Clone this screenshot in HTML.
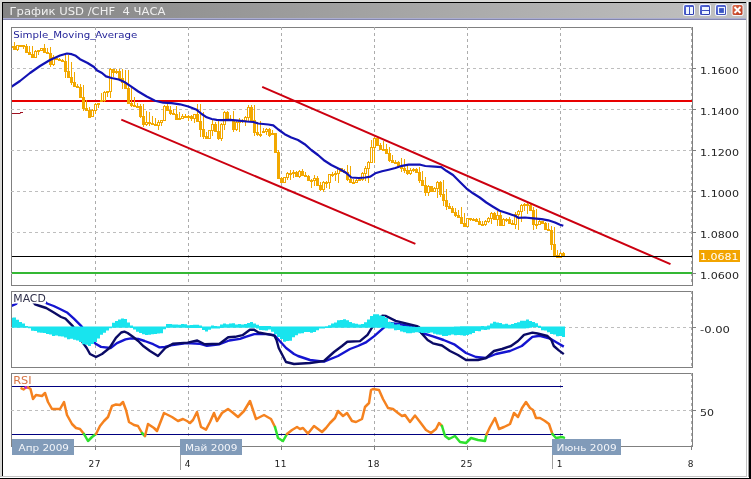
<!DOCTYPE html>
<html><head><meta charset="utf-8"><title>График USD/CHF</title>
<style>html,body{margin:0;padding:0;width:751px;height:479px;overflow:hidden;background:#fff}svg{display:block}text{font-family:"DejaVu Sans","Liberation Sans",sans-serif}</style>
</head><body>
<svg width="751" height="479" viewBox="0 0 751 479">
<rect width="751" height="479" fill="#d8d8d6"/>
<rect x="3" y="3" width="743" height="473" fill="#fff"/>
<path d="M2.5,2V477M2,2.5H746" stroke="#000" stroke-width="1"/>
<path d="M746.5,2V477M0,476.5H747" stroke="#c4c4c4"/>
<path d="M748.5,2V478" stroke="#9a9a9a"/>
<rect x="749" y="2" width="2" height="477" fill="#000"/>
<rect x="0" y="477" width="749" height="1" fill="#fff"/>
<rect x="0" y="478" width="751" height="1" fill="#000"/>
<rect x="747" y="2" width="1" height="476" fill="#fff"/>
<defs><linearGradient id="tg" x1="0" x2="1" y1="0" y2="0"><stop offset="0" stop-color="#848484"/><stop offset="1" stop-color="#c2c2c2"/></linearGradient></defs>
<rect x="3" y="3" width="743" height="15" fill="url(#tg)"/>
<rect x="3" y="18" width="743" height="1" fill="#acaed2"/>
<rect x="3" y="19" width="743" height="1" fill="#8486ac"/>
<text x="9.5" y="15" font-size="10.2" fill="#f0f0f0" textLength="156" lengthAdjust="spacingAndGlyphs" style="white-space:pre">График USD /CHF  4 ЧАСА</text>
<defs><linearGradient id="bg" x1="0" y1="0" x2="1" y2="1"><stop offset="0" stop-color="#5c70dc"/><stop offset="1" stop-color="#2434a8"/></linearGradient><linearGradient id="rg" x1="0" y1="0" x2="1" y2="1"><stop offset="0" stop-color="#e07050"/><stop offset="1" stop-color="#b83418"/></linearGradient></defs>
<rect x="683" y="4" width="12" height="12" rx="2.5" fill="#f4f8ff"/><rect x="684" y="5" width="10" height="10" rx="1.5" fill="url(#bg)"/><rect x="686" y="7" width="3" height="7" fill="#eef6ff"/><rect x="690" y="7" width="3" height="7" fill="#eef6ff"/>
<rect x="699" y="4" width="12" height="12" rx="2.5" fill="#f4f8ff"/><rect x="700" y="5" width="10" height="10" rx="1.5" fill="url(#bg)"/><rect x="702" y="7" width="7" height="3" fill="#eef6ff"/><rect x="702" y="11" width="7" height="3" fill="#eef6ff"/>
<rect x="715" y="4" width="12" height="12" rx="2.5" fill="#f4f8ff"/><rect x="716" y="5" width="10" height="10" rx="1.5" fill="url(#bg)"/><rect x="718.5" y="7.5" width="6" height="6" fill="#3a56c4" stroke="#eef6ff" stroke-width="1.2"/>
<rect x="731.5" y="4" width="12" height="12" rx="2.5" fill="#f4f8ff"/><rect x="732.5" y="5" width="10" height="10" rx="1.5" fill="url(#rg)"/><path d="M734.5,7L740.5,13M740.5,7L734.5,13" stroke="#fff" stroke-width="1.9"/>
<g fill="none" stroke="#808080" stroke-width="1">
<rect x="11.5" y="27.5" width="681" height="258"/>
<rect x="11.5" y="291.5" width="681" height="76"/>
<rect x="11.5" y="373.5" width="681" height="73"/>
</g>
<g stroke="#acacac" stroke-width="1" stroke-dasharray="3,3">
<line x1="95.5" y1="27" x2="95.5" y2="285"/><line x1="188.5" y1="27" x2="188.5" y2="285"/><line x1="281.5" y1="27" x2="281.5" y2="285"/><line x1="374.5" y1="27" x2="374.5" y2="285"/><line x1="467.5" y1="27" x2="467.5" y2="285"/><line x1="560.5" y1="27" x2="560.5" y2="285"/><line x1="691.5" y1="27" x2="691.5" y2="285"/>
<line x1="95.5" y1="291" x2="95.5" y2="367"/><line x1="188.5" y1="291" x2="188.5" y2="367"/><line x1="281.5" y1="291" x2="281.5" y2="367"/><line x1="374.5" y1="291" x2="374.5" y2="367"/><line x1="467.5" y1="291" x2="467.5" y2="367"/><line x1="560.5" y1="291" x2="560.5" y2="367"/><line x1="691.5" y1="291" x2="691.5" y2="367"/>
<line x1="95.5" y1="373" x2="95.5" y2="446"/><line x1="188.5" y1="373" x2="188.5" y2="446"/><line x1="281.5" y1="373" x2="281.5" y2="446"/><line x1="374.5" y1="373" x2="374.5" y2="446"/><line x1="467.5" y1="373" x2="467.5" y2="446"/><line x1="560.5" y1="373" x2="560.5" y2="446"/><line x1="691.5" y1="373" x2="691.5" y2="446"/>
</g>
<g stroke="#bebebe" stroke-width="1" stroke-dasharray="3,3">
<line x1="11" y1="68.5" x2="692" y2="68.5"/><line x1="11" y1="109.5" x2="692" y2="109.5"/><line x1="11" y1="150.5" x2="692" y2="150.5"/><line x1="11" y1="191.5" x2="692" y2="191.5"/><line x1="11" y1="232.5" x2="692" y2="232.5"/><line x1="11" y1="273.5" x2="692" y2="273.5"/>
<line x1="11" y1="327.5" x2="692" y2="327.5"/>
<line x1="11" y1="410.5" x2="692" y2="410.5"/>
</g>
<path d="M692,68.5H696M692,109.5H696M692,150.5H696M692,191.5H696M692,232.5H696M692,273.5H696M692,327.5H696M692,410.5H696M95.5,446V450M188.5,446V450M281.5,446V450M374.5,446V450M467.5,446V450M560.5,446V450M691.5,446V450" stroke="#808080"/>
<g font-size="9" fill="#262626">
<text x="700" y="74" textLength="39" lengthAdjust="spacingAndGlyphs">1.1600</text>
<text x="700" y="115" textLength="39" lengthAdjust="spacingAndGlyphs">1.1400</text>
<text x="700" y="156" textLength="39" lengthAdjust="spacingAndGlyphs">1.1200</text>
<text x="700" y="197" textLength="39" lengthAdjust="spacingAndGlyphs">1.1000</text>
<text x="700" y="238" textLength="39" lengthAdjust="spacingAndGlyphs">1.0800</text>
<text x="700" y="279" textLength="39" lengthAdjust="spacingAndGlyphs">1.0600</text>
<text x="700" y="333" textLength="30" lengthAdjust="spacingAndGlyphs">-0.00</text>
<text x="700" y="416" textLength="14" lengthAdjust="spacingAndGlyphs">50</text>
</g>
<clipPath id="cm"><rect x="12" y="28" width="680" height="257"/></clipPath>
<g clip-path="url(#cm)">
<rect x="12" y="100" width="680" height="2" fill="#e80000"/>
<path d="M12,113.5H20.5M20,112.5H23" stroke="#a01020" stroke-width="1.2"/>
<path d="M11.5,46V48M14.5,42V50M17.5,45V51M20.5,45V47M23.5,45V49M26.5,44V52M29.5,46V54M32.5,46V58M35.5,50V57M38.5,50V55M41.5,48V51M44.5,44V53M47.5,48V54M50.5,47V67M53.5,55V66M56.5,57V60M59.5,58V60M62.5,59V61M65.5,53V78M68.5,55V78M71.5,62V85M74.5,72V87M77.5,84V87M80.5,84V98M83.5,85V111M86.5,100V110M89.5,107V117M92.5,109V117M95.5,103V114M98.5,103V108M101.5,93V101M104.5,91V102M107.5,91V97M110.5,68V98M113.5,69V77M116.5,69V74M119.5,69V78M122.5,69V89M125.5,70V88M128.5,70V104M131.5,86V107M134.5,97V107M137.5,103V107M140.5,104V118M143.5,104V127M146.5,111V126M149.5,112V126M152.5,116V125M155.5,118V126M158.5,120V130M161.5,120V126M164.5,105V121M167.5,104V110M170.5,106V115M173.5,109V115M176.5,106V120M179.5,112V120M182.5,114V118M185.5,114V118M188.5,115V121M191.5,115V121M194.5,114V123M197.5,104V122M200.5,104V137M203.5,112V139M206.5,132V138M209.5,130V138M212.5,120V136M215.5,122V132M218.5,120V140M221.5,123V141M224.5,111V130M227.5,111V121M230.5,115V121M233.5,111V132M236.5,121V131M239.5,118V132M242.5,119V123M245.5,116V126M248.5,105V121M251.5,105V121M254.5,105V136M257.5,122V136M260.5,121V137M263.5,128V131M266.5,128V135M269.5,128V137M272.5,130V133M275.5,133V153M278.5,150V179M281.5,177V183M284.5,177V183M287.5,172V180M290.5,170V180M293.5,170V178M296.5,171V177M299.5,170V178M302.5,169V176M305.5,172V176M308.5,175V180M311.5,179V188M314.5,175V186M317.5,176V186M320.5,182V191M323.5,181V192M326.5,181V188M329.5,174V189M332.5,172V177M335.5,171V181M338.5,168V183M341.5,168V172M344.5,169V172M347.5,165V181M350.5,166V183M353.5,179V182M356.5,179V183M359.5,178V181M362.5,172V181M365.5,166V181M368.5,161V183M371.5,140V163M374.5,137V163M377.5,138V146M380.5,143V150M383.5,141V151M386.5,144V154M389.5,147V162M392.5,155V162M395.5,160V163M398.5,161V166M401.5,158V172M404.5,159V173M407.5,166V175M410.5,168V175M413.5,168V172M416.5,168V172M419.5,167V183M422.5,171V186M425.5,177V196M428.5,185V196M431.5,186V192M434.5,187V192M437.5,181V198M440.5,181V197M443.5,180V206M446.5,189V210M449.5,203V209M452.5,206V213M455.5,208V217M458.5,210V218M461.5,207V224M464.5,213V227M467.5,218V227M470.5,218V221M473.5,218V221M476.5,218V222M479.5,218V224M482.5,221V225M485.5,220V226M488.5,217V223M491.5,212V224M494.5,212V220M497.5,211V226M500.5,212V226M503.5,218V225M506.5,218V222M509.5,217V223M512.5,220V224M515.5,212V229M518.5,210V230M521.5,204V222M524.5,203V211M527.5,203V214M530.5,204V211M533.5,207V230M536.5,209V229M539.5,220V225M542.5,221V224M545.5,222V230M548.5,223V230M551.5,226V250M554.5,227V257M557.5,250V258M560.5,252V258M563.5,252V256" stroke="#f2a800" stroke-width="1" fill="none"/>
<rect x="13" y="46" width="3" height="4" fill="#f2a800"/>
<rect x="17" y="46" width="1" height="3" fill="#fff"/>
<rect x="22" y="45" width="3" height="2" fill="#f2a800"/>
<rect x="25" y="46" width="3" height="7" fill="#f2a800"/>
<rect x="28" y="52" width="3" height="3" fill="#f2a800"/>
<rect x="31" y="54" width="3" height="4" fill="#f2a800"/>
<rect x="35" y="52" width="1" height="5" fill="#fff"/>
<rect x="41" y="49" width="1" height="1" fill="#fff"/>
<rect x="43" y="48" width="3" height="5" fill="#f2a800"/>
<rect x="46" y="52" width="3" height="2" fill="#f2a800"/>
<rect x="49" y="53" width="3" height="12" fill="#f2a800"/>
<rect x="53" y="58" width="1" height="6" fill="#fff"/>
<rect x="55" y="58" width="3" height="2" fill="#f2a800"/>
<rect x="58" y="59" width="3" height="2" fill="#f2a800"/>
<rect x="61" y="60" width="3" height="2" fill="#f2a800"/>
<rect x="64" y="61" width="3" height="11" fill="#f2a800"/>
<rect x="67" y="71" width="3" height="7" fill="#f2a800"/>
<rect x="70" y="77" width="3" height="6" fill="#f2a800"/>
<rect x="73" y="82" width="3" height="5" fill="#f2a800"/>
<rect x="76" y="86" width="3" height="2" fill="#f2a800"/>
<rect x="79" y="87" width="3" height="11" fill="#f2a800"/>
<rect x="82" y="97" width="3" height="12" fill="#f2a800"/>
<rect x="85" y="108" width="3" height="3" fill="#f2a800"/>
<rect x="88" y="110" width="3" height="8" fill="#f2a800"/>
<rect x="92" y="111" width="1" height="5" fill="#fff"/>
<rect x="95" y="105" width="1" height="5" fill="#fff"/>
<rect x="104" y="93" width="1" height="7" fill="#fff"/>
<rect x="110" y="70" width="1" height="21" fill="#fff"/>
<rect x="112" y="69" width="3" height="4" fill="#f2a800"/>
<rect x="118" y="71" width="3" height="8" fill="#f2a800"/>
<rect x="121" y="78" width="3" height="5" fill="#f2a800"/>
<rect x="124" y="82" width="3" height="7" fill="#f2a800"/>
<rect x="127" y="88" width="3" height="16" fill="#f2a800"/>
<rect x="130" y="103" width="3" height="3" fill="#f2a800"/>
<rect x="133" y="105" width="3" height="2" fill="#f2a800"/>
<rect x="136" y="106" width="3" height="2" fill="#f2a800"/>
<rect x="139" y="106" width="3" height="11" fill="#f2a800"/>
<rect x="142" y="116" width="3" height="9" fill="#f2a800"/>
<rect x="146" y="123" width="1" height="1" fill="#fff"/>
<rect x="148" y="122" width="3" height="2" fill="#f2a800"/>
<rect x="151" y="123" width="3" height="2" fill="#f2a800"/>
<rect x="154" y="124" width="3" height="2" fill="#f2a800"/>
<rect x="158" y="123" width="1" height="2" fill="#fff"/>
<rect x="161" y="121" width="1" height="1" fill="#fff"/>
<rect x="164" y="107" width="1" height="13" fill="#fff"/>
<rect x="166" y="106" width="3" height="5" fill="#f2a800"/>
<rect x="169" y="110" width="3" height="4" fill="#f2a800"/>
<rect x="172" y="113" width="3" height="2" fill="#f2a800"/>
<rect x="175" y="114" width="3" height="6" fill="#f2a800"/>
<rect x="182" y="117" width="1" height="1" fill="#fff"/>
<rect x="184" y="116" width="3" height="2" fill="#f2a800"/>
<rect x="190" y="116" width="3" height="3" fill="#f2a800"/>
<rect x="194" y="115" width="1" height="3" fill="#fff"/>
<rect x="196" y="114" width="3" height="8" fill="#f2a800"/>
<rect x="199" y="121" width="3" height="9" fill="#f2a800"/>
<rect x="202" y="129" width="3" height="8" fill="#f2a800"/>
<rect x="205" y="136" width="3" height="3" fill="#f2a800"/>
<rect x="209" y="131" width="1" height="7" fill="#fff"/>
<rect x="212" y="125" width="1" height="5" fill="#fff"/>
<rect x="214" y="124" width="3" height="8" fill="#f2a800"/>
<rect x="217" y="131" width="3" height="8" fill="#f2a800"/>
<rect x="221" y="125" width="1" height="13" fill="#fff"/>
<rect x="224" y="113" width="1" height="11" fill="#fff"/>
<rect x="226" y="112" width="3" height="8" fill="#f2a800"/>
<rect x="229" y="119" width="3" height="2" fill="#f2a800"/>
<rect x="232" y="120" width="3" height="10" fill="#f2a800"/>
<rect x="236" y="123" width="1" height="6" fill="#fff"/>
<rect x="239" y="121" width="1" height="1" fill="#fff"/>
<rect x="245" y="118" width="1" height="2" fill="#fff"/>
<rect x="248" y="108" width="1" height="9" fill="#fff"/>
<rect x="250" y="107" width="3" height="14" fill="#f2a800"/>
<rect x="253" y="120" width="3" height="13" fill="#f2a800"/>
<rect x="256" y="132" width="3" height="3" fill="#f2a800"/>
<rect x="259" y="134" width="3" height="2" fill="#f2a800"/>
<rect x="266" y="130" width="1" height="1" fill="#fff"/>
<rect x="268" y="129" width="3" height="7" fill="#f2a800"/>
<rect x="274" y="133" width="3" height="20" fill="#f2a800"/>
<rect x="277" y="152" width="3" height="27" fill="#f2a800"/>
<rect x="280" y="178" width="3" height="5" fill="#f2a800"/>
<rect x="284" y="178" width="1" height="4" fill="#fff"/>
<rect x="287" y="174" width="1" height="3" fill="#fff"/>
<rect x="295" y="172" width="3" height="5" fill="#f2a800"/>
<rect x="299" y="172" width="1" height="4" fill="#fff"/>
<rect x="301" y="171" width="3" height="5" fill="#f2a800"/>
<rect x="304" y="175" width="3" height="2" fill="#f2a800"/>
<rect x="307" y="176" width="3" height="5" fill="#f2a800"/>
<rect x="310" y="180" width="3" height="2" fill="#f2a800"/>
<rect x="314" y="179" width="1" height="1" fill="#fff"/>
<rect x="316" y="178" width="3" height="8" fill="#f2a800"/>
<rect x="319" y="185" width="3" height="5" fill="#f2a800"/>
<rect x="323" y="183" width="1" height="6" fill="#fff"/>
<rect x="329" y="175" width="1" height="7" fill="#fff"/>
<rect x="338" y="169" width="1" height="4" fill="#fff"/>
<rect x="340" y="168" width="3" height="4" fill="#f2a800"/>
<rect x="343" y="171" width="3" height="2" fill="#f2a800"/>
<rect x="346" y="172" width="3" height="8" fill="#f2a800"/>
<rect x="349" y="179" width="3" height="4" fill="#f2a800"/>
<rect x="352" y="182" width="3" height="2" fill="#f2a800"/>
<rect x="356" y="181" width="1" height="1" fill="#fff"/>
<rect x="362" y="174" width="1" height="5" fill="#fff"/>
<rect x="365" y="169" width="1" height="4" fill="#fff"/>
<rect x="368" y="163" width="1" height="5" fill="#fff"/>
<rect x="371" y="148" width="1" height="14" fill="#fff"/>
<rect x="374" y="139" width="1" height="8" fill="#fff"/>
<rect x="376" y="138" width="3" height="8" fill="#f2a800"/>
<rect x="379" y="145" width="3" height="5" fill="#f2a800"/>
<rect x="382" y="149" width="3" height="2" fill="#f2a800"/>
<rect x="385" y="149" width="3" height="5" fill="#f2a800"/>
<rect x="388" y="153" width="3" height="8" fill="#f2a800"/>
<rect x="391" y="160" width="3" height="3" fill="#f2a800"/>
<rect x="394" y="162" width="3" height="2" fill="#f2a800"/>
<rect x="397" y="162" width="3" height="5" fill="#f2a800"/>
<rect x="400" y="166" width="3" height="3" fill="#f2a800"/>
<rect x="403" y="168" width="3" height="3" fill="#f2a800"/>
<rect x="406" y="170" width="3" height="4" fill="#f2a800"/>
<rect x="410" y="171" width="1" height="2" fill="#fff"/>
<rect x="415" y="169" width="3" height="4" fill="#f2a800"/>
<rect x="418" y="172" width="3" height="9" fill="#f2a800"/>
<rect x="421" y="180" width="3" height="6" fill="#f2a800"/>
<rect x="424" y="185" width="3" height="8" fill="#f2a800"/>
<rect x="428" y="187" width="1" height="5" fill="#fff"/>
<rect x="430" y="186" width="3" height="6" fill="#f2a800"/>
<rect x="434" y="189" width="1" height="2" fill="#fff"/>
<rect x="437" y="183" width="1" height="5" fill="#fff"/>
<rect x="439" y="182" width="3" height="13" fill="#f2a800"/>
<rect x="442" y="194" width="3" height="7" fill="#f2a800"/>
<rect x="445" y="200" width="3" height="7" fill="#f2a800"/>
<rect x="448" y="206" width="3" height="3" fill="#f2a800"/>
<rect x="451" y="208" width="3" height="5" fill="#f2a800"/>
<rect x="454" y="212" width="3" height="4" fill="#f2a800"/>
<rect x="457" y="215" width="3" height="3" fill="#f2a800"/>
<rect x="460" y="217" width="3" height="7" fill="#f2a800"/>
<rect x="463" y="223" width="3" height="4" fill="#f2a800"/>
<rect x="467" y="219" width="1" height="7" fill="#fff"/>
<rect x="469" y="218" width="3" height="2" fill="#f2a800"/>
<rect x="475" y="219" width="3" height="3" fill="#f2a800"/>
<rect x="478" y="221" width="3" height="4" fill="#f2a800"/>
<rect x="481" y="224" width="3" height="2" fill="#f2a800"/>
<rect x="485" y="222" width="1" height="2" fill="#fff"/>
<rect x="488" y="219" width="1" height="2" fill="#fff"/>
<rect x="491" y="214" width="1" height="4" fill="#fff"/>
<rect x="493" y="213" width="3" height="7" fill="#f2a800"/>
<rect x="497" y="216" width="1" height="3" fill="#fff"/>
<rect x="499" y="215" width="3" height="11" fill="#f2a800"/>
<rect x="503" y="220" width="1" height="5" fill="#fff"/>
<rect x="508" y="219" width="3" height="5" fill="#f2a800"/>
<rect x="511" y="223" width="3" height="2" fill="#f2a800"/>
<rect x="515" y="215" width="1" height="9" fill="#fff"/>
<rect x="518" y="212" width="1" height="2" fill="#fff"/>
<rect x="521" y="206" width="1" height="5" fill="#fff"/>
<rect x="526" y="204" width="3" height="2" fill="#f2a800"/>
<rect x="529" y="205" width="3" height="6" fill="#f2a800"/>
<rect x="532" y="210" width="3" height="15" fill="#f2a800"/>
<rect x="535" y="224" width="3" height="2" fill="#f2a800"/>
<rect x="539" y="222" width="1" height="2" fill="#fff"/>
<rect x="541" y="221" width="3" height="3" fill="#f2a800"/>
<rect x="544" y="223" width="3" height="7" fill="#f2a800"/>
<rect x="547" y="229" width="3" height="2" fill="#f2a800"/>
<rect x="550" y="230" width="3" height="15" fill="#f2a800"/>
<rect x="553" y="244" width="3" height="12" fill="#f2a800"/>
<rect x="556" y="255" width="3" height="3" fill="#f2a800"/>
<rect x="560" y="254" width="1" height="3" fill="#fff"/>
<rect x="562" y="253" width="3" height="3" fill="#f2a800"/>
<path d="M10.5,46V48M12.5,46V48M10,46.5H13M10,47.5H13M16.5,45V50M18.5,45V50M16,45.5H19M16,49.5H19M19.5,45V47M21.5,45V47M19,45.5H22M19,46.5H22M34.5,51V58M36.5,51V58M34,51.5H37M34,57.5H37M37.5,50V52M39.5,50V52M37,50.5H40M37,51.5H40M40.5,48V51M42.5,48V51M40,48.5H43M40,50.5H43M52.5,57V65M54.5,57V65M52,57.5H55M52,64.5H55M91.5,110V117M93.5,110V117M91,110.5H94M91,116.5H94M94.5,104V111M96.5,104V111M94,104.5H97M94,110.5H97M97.5,103V105M99.5,103V105M97,103.5H100M97,104.5H100M100.5,100V102M102.5,100V102M100,100.5H103M100,101.5H103M103.5,92V101M105.5,92V101M103,92.5H106M103,100.5H106M106.5,91V93M108.5,91V93M106,91.5H109M106,92.5H109M109.5,69V92M111.5,69V92M109,69.5H112M109,91.5H112M115.5,71V73M117.5,71V73M115,71.5H118M115,72.5H118M145.5,122V125M147.5,122V125M145,122.5H148M145,124.5H148M157.5,122V126M159.5,122V126M157,122.5H160M157,125.5H160M160.5,120V123M162.5,120V123M160,120.5H163M160,122.5H163M163.5,106V121M165.5,106V121M163,106.5H166M163,120.5H166M178.5,118V120M180.5,118V120M178,118.5H181M178,119.5H181M181.5,116V119M183.5,116V119M181,116.5H184M181,118.5H184M187.5,116V118M189.5,116V118M187,116.5H190M187,117.5H190M193.5,114V119M195.5,114V119M193,114.5H196M193,118.5H196M208.5,130V139M210.5,130V139M208,130.5H211M208,138.5H211M211.5,124V131M213.5,124V131M211,124.5H214M211,130.5H214M220.5,124V139M222.5,124V139M220,124.5H223M220,138.5H223M223.5,112V125M225.5,112V125M223,112.5H226M223,124.5H226M235.5,122V130M237.5,122V130M235,122.5H238M235,129.5H238M238.5,120V123M240.5,120V123M238,120.5H241M238,122.5H241M241.5,120V122M243.5,120V122M241,120.5H244M241,121.5H244M244.5,117V121M246.5,117V121M244,117.5H247M244,120.5H247M247.5,107V118M249.5,107V118M247,107.5H250M247,117.5H250M262.5,131V133M264.5,131V133M262,131.5H265M262,132.5H265M265.5,129V132M267.5,129V132M265,129.5H268M265,131.5H268M271.5,133V135M273.5,133V135M271,133.5H274M271,134.5H274M283.5,177V183M285.5,177V183M283,177.5H286M283,182.5H286M286.5,173V178M288.5,173V178M286,173.5H289M286,177.5H289M289.5,173V175M291.5,173V175M289,173.5H292M289,174.5H292M292.5,172V174M294.5,172V174M292,172.5H295M292,173.5H295M298.5,171V177M300.5,171V177M298,171.5H301M298,176.5H301M313.5,178V181M315.5,178V181M313,178.5H316M313,180.5H316M322.5,182V190M324.5,182V190M322,182.5H325M322,189.5H325M325.5,182V184M327.5,182V184M325,182.5H328M325,183.5H328M328.5,174V183M330.5,174V183M328,174.5H331M328,182.5H331M331.5,174V176M333.5,174V176M331,174.5H334M331,175.5H334M334.5,173V175M336.5,173V175M334,173.5H337M334,174.5H337M337.5,168V174M339.5,168V174M337,168.5H340M337,173.5H340M355.5,180V183M357.5,180V183M355,180.5H358M355,182.5H358M358.5,179V181M360.5,179V181M358,179.5H361M358,180.5H361M361.5,173V180M363.5,173V180M361,173.5H364M361,179.5H364M364.5,168V174M366.5,168V174M364,168.5H367M364,173.5H367M367.5,162V169M369.5,162V169M367,162.5H370M367,168.5H370M370.5,147V163M372.5,147V163M370,147.5H373M370,162.5H373M373.5,138V148M375.5,138V148M373,138.5H376M373,147.5H376M409.5,170V174M411.5,170V174M409,170.5H412M409,173.5H412M412.5,169V171M414.5,169V171M412,169.5H415M412,170.5H415M427.5,186V193M429.5,186V193M427,186.5H430M427,192.5H430M433.5,188V192M435.5,188V192M433,188.5H436M433,191.5H436M436.5,182V189M438.5,182V189M436,182.5H439M436,188.5H439M466.5,218V227M468.5,218V227M466,218.5H469M466,226.5H469M472.5,219V221M474.5,219V221M472,219.5H475M472,220.5H475M484.5,221V225M486.5,221V225M484,221.5H487M484,224.5H487M487.5,218V222M489.5,218V222M487,218.5H490M487,221.5H490M490.5,213V219M492.5,213V219M490,213.5H493M490,218.5H493M496.5,215V220M498.5,215V220M496,215.5H499M496,219.5H499M502.5,219V226M504.5,219V226M502,219.5H505M502,225.5H505M505.5,219V221M507.5,219V221M505,219.5H508M505,220.5H508M514.5,214V225M516.5,214V225M514,214.5H517M514,224.5H517M517.5,211V215M519.5,211V215M517,211.5H520M517,214.5H520M520.5,205V212M522.5,205V212M520,205.5H523M520,211.5H523M523.5,204V206M525.5,204V206M523,204.5H526M523,205.5H526M538.5,221V225M540.5,221V225M538,221.5H541M538,224.5H541M559.5,253V258M561.5,253V258M559,253.5H562M559,257.5H562" stroke="#f2a800" stroke-width="1" fill="none"/>
<polyline points="11,87.1 20,81 30,73 40,66 50,60 60,55.5 67,53.5 71.7,54.2 75.8,55.8 80,59.2 87.6,63 94,67 96.8,70.3 102,73 106,76.4 111.5,78 118.8,79.5 125,82.3 131.7,86.9 138.3,91.5 146.7,96.5 155,100.7 163.3,102.7 171.7,103.2 180,104.3 188.3,106.5 196.7,109.8 201.7,114 206.7,117.3 211.7,119 216.7,119.8 221.7,120.2 230,119.8 238.3,120.7 246.7,121.5 253.3,122 258.3,123.5 263.3,124 268.3,124.5 273.3,125.3 278.3,129.5 284.7,134.2 291.3,137.5 298,140 304.7,144.2 311.3,150 318,155 324.7,160.8 331.3,165 336.3,167.5 341.3,170 346.3,173 351.3,177.5 358.7,178 365.3,177.5 370.3,176.7 375.3,173.3 382,171.3 388.7,169.7 395.3,168 402,165.8 408.7,164.7 415.3,164.5 420.3,164.7 425.3,166 434.7,166.7 441.3,167.2 446.3,170.8 453,175 459.7,181.7 466.3,188.3 473,193.3 479.7,197.5 486.3,202.5 493,206.7 499.7,210.8 506.7,213 511.7,214.7 515,215.8 518.3,217.8 525,217.5 533.3,218.3 541.7,219.2 548.3,220.3 555,222.5 560,224.7 563.3,225.8" fill="none" stroke="#1212b4" stroke-width="2.2" stroke-linejoin="round"/>
<line x1="262.2" y1="86.8" x2="670.5" y2="264.2" stroke="#cc0010" stroke-width="2"/>
<line x1="121.3" y1="119.6" x2="415.4" y2="243.8" stroke="#cc0010" stroke-width="2"/>
<rect x="12" y="256" width="680" height="1" fill="#000"/>
<rect x="12" y="272" width="680" height="2" fill="#34b834"/>
</g>
<text x="13.3" y="38" font-size="9.3" fill="#1e1e96" textLength="124" lengthAdjust="spacingAndGlyphs">Simple_Moving_Average</text>
<rect x="699" y="250" width="41" height="12" fill="#f2a400"/>
<text x="700" y="260" font-size="9" fill="#fff" textLength="38.5" lengthAdjust="spacingAndGlyphs">1.0681</text>
<clipPath id="cmacd"><rect x="12" y="292" width="680" height="75"/></clipPath>
<g clip-path="url(#cmacd)">
<polyline points="11,306 16,304 20,298 40,298 45,302 47,303.5 53.7,306 60,309 67.5,312.8 73.9,318.6 81.4,326.1 88,335 95.6,343.7 101,346.9 110.6,348 117,343.1 125.5,339.4 130.8,338.4 138.2,338.9 144.6,341 153.2,344.2 159.5,347.4 165,347 170.6,345.3 186.6,343.1 199.4,343.7 206.9,345.8 219.6,344.2 229.2,340.5 240,338.9 245.6,336.8 254.2,334.1 267,334.1 274.4,335.2 279.7,341 286.1,348 294,354 298,356 310,360 324,361.6 338,356 350,349 357.9,346 365.4,342.7 373.9,336.4 382.4,328.9 389.3,323 402,324.5 414,327 422,333 432.9,336.4 443.6,340 454.2,344.3 466,353 476,357 486,358 496,354 510,351 521.8,346 532.4,336.9 540,335.8 542.5,336.6 550,338.5 556.3,342.3 563.8,346.6" fill="none" stroke="#1414d0" stroke-width="2.4" stroke-linejoin="round"/>
<polyline points="11,300 16,297 30,297 33,302 35,304.3 40,306 46.2,308 53,312 61.1,317 65.4,318.6 72.8,326.1 78,334 82.4,342 86.7,348 90,354 96,357 102,354 109.5,348 115.9,337.8 121.2,332.5 124.4,331.6 127.6,333 132.9,336.8 138.2,341 143.6,346.3 150,351 158,356 165.3,348 172.8,343.7 187.7,342.6 197.3,340.5 204.7,344.2 219.6,343.7 228.2,337.3 235,336.8 242.5,335.2 249.9,329.8 254.2,329.8 258.4,332.5 270.1,334.6 274.4,335.7 276.5,340 278.7,348 286,362 294,364 310,363 324,361 334,352 342,346 347.3,341.7 360,341.1 367.5,334.8 371.2,328.9 376,322 382.4,315.6 386,316 395.6,320.9 417,326.2 419,327 421,332.6 427.6,340 432.9,343.3 442,345.5 450,351 458,355 466,360 478,360 486,358 494,351 502,349 511,346 518,341 524,334.8 532.4,332.6 537.5,333.5 547.5,336 551.3,339.8 553.8,346 558.8,350.4 563.8,354.1" fill="none" stroke="#0a0a64" stroke-width="2.4" stroke-linejoin="round"/>
<path d="M10,317.8h3V327.7h-3zM13,317.6h3V327.7h-3zM16,319.8h3V327.7h-3zM19,322.1h3V327.7h-3zM22,323.6h3V327.7h-3zM25,326.1h3V327.7h-3zM28,326.4h3V328.3h-3zM31,326.6h3V330.7h-3zM34,326.6h3V331.1h-3zM37,326.6h3V332.5h-3zM40,326.6h3V332.7h-3zM43,326.6h3V332.9h-3zM46,326.6h3V334h-3zM49,326.6h3V334.6h-3zM52,326.6h3V336h-3zM55,326.6h3V335.4h-3zM58,326.6h3V336.2h-3zM61,326.6h3V336.6h-3zM64,326.6h3V337.6h-3zM67,326.6h3V339.2h-3zM70,326.6h3V338.8h-3zM73,326.6h3V339.7h-3zM76,326.6h3V340.6h-3zM79,326.6h3V341.9h-3zM82,326.6h3V344.2h-3zM85,326.6h3V344.7h-3zM88,326.6h3V345.9h-3zM91,326.6h3V343.9h-3zM94,326.6h3V342.1h-3zM97,326.6h3V338.6h-3zM100,326.6h3V334.8h-3zM103,326.6h3V332.7h-3zM106,326.6h3V330.6h-3zM109,326.6h3V328.3h-3zM112,322.8h3V327.7h-3zM115,321h3V327.7h-3zM118,319.5h3V327.7h-3zM121,318.6h3V327.7h-3zM124,319h3V327.7h-3zM127,322.4h3V327.7h-3zM130,325.6h3V327.9h-3zM133,326.6h3V329.6h-3zM136,326.6h3V331.7h-3zM139,326.6h3V332.9h-3zM142,326.6h3V334.2h-3zM145,326.6h3V335.1h-3zM148,326.6h3V334.8h-3zM151,326.6h3V334.2h-3zM154,326.6h3V334.1h-3zM157,326.6h3V333.4h-3zM160,326.6h3V333.2h-3zM163,326.6h3V329.3h-3zM166,323.9h3V327.7h-3zM169,323.9h3V327.7h-3zM172,324.4h3V327.7h-3zM175,324.6h3V327.7h-3zM178,324.7h3V327.7h-3zM181,324h3V327.7h-3zM184,324.3h3V327.8h-3zM187,325.2h3V327.9h-3zM190,324.9h3V328h-3zM193,324.7h3V328h-3zM196,324.7h3V328h-3zM199,325.6h3V328h-3zM202,326.6h3V329.9h-3zM205,326.6h3V331.4h-3zM208,326.6h3V329.8h-3zM211,325.4h3V328.5h-3zM214,326h3V328.5h-3zM217,326.2h3V328.5h-3zM220,324.4h3V328h-3zM223,323.6h3V327.7h-3zM226,324.3h3V327.7h-3zM229,323.6h3V327.7h-3zM232,323.3h3V327.7h-3zM235,324.6h3V327.7h-3zM238,323.9h3V327.7h-3zM241,324.4h3V327.7h-3zM244,323.9h3V327.7h-3zM247,323h3V327.7h-3zM250,321.9h3V327.7h-3zM253,323.4h3V327.7h-3zM256,324.7h3V328.6h-3zM259,326h3V330.1h-3zM262,326h3V330.2h-3zM265,326h3V330.6h-3zM268,326h3V329.4h-3zM271,326.6h3V331.8h-3zM274,326.6h3V334.2h-3zM277,326.6h3V337.1h-3zM280,326.6h3V339.1h-3zM283,326.6h3V341.7h-3zM286,326.6h3V341.1h-3zM289,326.6h3V340.7h-3zM292,326.6h3V337.3h-3zM295,326.6h3V335.3h-3zM298,326.6h3V333.6h-3zM301,326.6h3V333.2h-3zM304,326.6h3V332.1h-3zM307,326.6h3V332h-3zM310,326.6h3V332.7h-3zM313,326.6h3V331.9h-3zM316,326.6h3V330.2h-3zM319,326.6h3V328.5h-3zM322,326.4h3V328.5h-3zM325,326.2h3V328h-3zM328,325.3h3V327.9h-3zM331,323.5h3V327.8h-3zM334,322.5h3V327.8h-3zM337,320.3h3V327.8h-3zM340,320.1h3V327.8h-3zM343,319.3h3V327.8h-3zM346,320.2h3V327.8h-3zM349,322h3V327.8h-3zM352,323.2h3V327.8h-3zM355,323.8h3V327.8h-3zM358,324.6h3V327.8h-3zM361,323.9h3V327.8h-3zM364,322.3h3V327.8h-3zM367,319.5h3V327.8h-3zM370,315.9h3V327.8h-3zM373,314.3h3V327.8h-3zM376,314.2h3V327.8h-3zM379,315.5h3V327.8h-3zM382,316.1h3V327.8h-3zM385,318h3V328.2h-3zM388,322h3V328.4h-3zM391,322.5h3V328.4h-3zM394,324.5h3V330.3h-3zM397,324.3h3V330.1h-3zM400,325.7h3V331.5h-3zM403,326h3V332.3h-3zM406,326.3h3V333.2h-3zM409,326.6h3V333.2h-3zM412,326.8h3V332.7h-3zM415,326.9h3V332.3h-3zM418,326.8h3V332.5h-3zM421,326.8h3V333h-3zM424,326.8h3V332.8h-3zM427,326.8h3V332.9h-3zM430,326.8h3V332.4h-3zM433,326.8h3V333.7h-3zM436,326.8h3V334.4h-3zM439,326.8h3V334.7h-3zM442,326.8h3V335.9h-3zM445,326.8h3V336.1h-3zM448,326.8h3V335.3h-3zM451,326.8h3V334.6h-3zM454,326.6h3V335.2h-3zM457,326.4h3V335h-3zM460,326.2h3V335.3h-3zM463,326.2h3V335.7h-3zM466,326.2h3V335h-3zM469,326.2h3V334.3h-3zM472,326.2h3V333.1h-3zM475,326.2h3V331h-3zM478,326.2h3V331.2h-3zM481,326.1h3V329.8h-3zM484,326.2h3V330.1h-3zM487,325.4h3V329.5h-3zM490,323.5h3V328.6h-3zM493,321.7h3V328.4h-3zM496,322.4h3V328.4h-3zM499,322.9h3V328.4h-3zM502,324.3h3V328.4h-3zM505,323.7h3V328.4h-3zM508,324.8h3V328.4h-3zM511,324.1h3V328.4h-3zM514,322.9h3V328.4h-3zM517,322.3h3V328.4h-3zM520,320.7h3V328.4h-3zM523,320.7h3V328.4h-3zM526,319.5h3V328.2h-3zM529,320.9h3V327.7h-3zM532,321.9h3V327.3h-3zM535,323.2h3V327.3h-3zM538,325.7h3V328.1h-3zM541,326.4h3V330.2h-3zM544,326.6h3V330.4h-3zM547,326.6h3V332.3h-3zM550,326.6h3V334.1h-3zM553,326.6h3V334.5h-3zM556,326.6h3V336.3h-3zM559,326.6h3V336h-3zM562,326.6h3V337h-3z" fill="#18e4ee"/>
<rect x="12" y="292" width="34" height="11.5" fill="#fff"/>
</g>
<text x="13.3" y="302.2" font-size="9.6" fill="#33334d" textLength="32.5" lengthAdjust="spacingAndGlyphs">MACD</text>
<clipPath id="crsi"><rect x="12" y="374" width="680" height="72"/></clipPath>
<g clip-path="url(#crsi)">
<rect x="12" y="386" width="551" height="1" fill="#000080"/>
<rect x="12" y="434" width="551" height="1" fill="#000080"/>
<polyline points="21.5,388.3 23.7,389.5 25.5,387.6" fill="none" stroke="#f5821f" stroke-width="2.5" stroke-linejoin="round" stroke-linecap="round"/>
<polyline points="25.5,387.6 28,387.4" fill="none" stroke="#c020e0" stroke-width="2.5" stroke-linejoin="round" stroke-linecap="round"/>
<polyline points="28,387.4 30.5,389 33,399 36,395 42,396 45,393 48,402 52,409 60,409 64,402 67,415 72,424 76,428 80,429 84,434" fill="none" stroke="#f5821f" stroke-width="2.5" stroke-linejoin="round" stroke-linecap="round"/>
<polyline points="84,434 88,441 92,437 96,434" fill="none" stroke="#2ee02e" stroke-width="2.5" stroke-linejoin="round" stroke-linecap="round"/>
<polyline points="96,434 100,426 104,421 108,417 112,406 116,404.4 120,405 123,402 126,410 129,422 134,425 138,426 142,433" fill="none" stroke="#f5821f" stroke-width="2.5" stroke-linejoin="round" stroke-linecap="round"/>
<polyline points="142,433 145,436" fill="none" stroke="#2ee02e" stroke-width="2.5" stroke-linejoin="round" stroke-linecap="round"/>
<polyline points="145,436 148,424 154,428 157,431 164,413 172,417 178,421 183,419 187,421 190,423 193,420 197,412 201,427 206,429.6 210,422 214,413 217,421 222,413 228,409 232,412 238,417 244,411 250,401 256,419 264,415 271,419 275,427" fill="none" stroke="#f5821f" stroke-width="2.5" stroke-linejoin="round" stroke-linecap="round"/>
<polyline points="275,427 278,438 283,441 287,434" fill="none" stroke="#2ee02e" stroke-width="2.5" stroke-linejoin="round" stroke-linecap="round"/>
<polyline points="287,434 292,430 297,427 300,429 303,428 308,433.6 314,426 322,432 326,428 330,423 335,418 338,411 343,416 347,413 352,421 356,422 362,419 365,407 369,403 371,390 373,389 379,390 383,399 388,408 393,409 398,413 402,416 405,415 410,422 415,415.6 420,422 426,430 431,433 436,429 439,423 442,426" fill="none" stroke="#f5821f" stroke-width="2.5" stroke-linejoin="round" stroke-linecap="round"/>
<polyline points="442,426 445,436 449,439 455,436 460,442 466,443 471,438 478,440 485,441 486.5,434.5" fill="none" stroke="#2ee02e" stroke-width="2.5" stroke-linejoin="round" stroke-linecap="round"/>
<polyline points="486.5,434.5 490,427 495,418 499,429 504,427 510,424 514,413 518,417 522,408 526,402 530,408 533,410 536,418 540,418 545,421 549,424 552.4,434" fill="none" stroke="#f5821f" stroke-width="2.5" stroke-linejoin="round" stroke-linecap="round"/>
<polyline points="552.4,434 556,438 562,437 564,437.6" fill="none" stroke="#2ee02e" stroke-width="2.5" stroke-linejoin="round" stroke-linecap="round"/>
</g>
<text x="13.2" y="384" font-size="9.6" fill="#d87646" textLength="18.5" lengthAdjust="spacingAndGlyphs">RSI</text>
<text x="94.8" y="467" font-size="9" fill="#202020" text-anchor="middle" letter-spacing="0.6">27</text>
<text x="187.8" y="467" font-size="9" fill="#202020" text-anchor="middle" letter-spacing="0.6">4</text>
<text x="280.8" y="467" font-size="9" fill="#202020" text-anchor="middle" letter-spacing="0.6">11</text>
<text x="373.8" y="467" font-size="9" fill="#202020" text-anchor="middle" letter-spacing="0.6">18</text>
<text x="466.8" y="467" font-size="9" fill="#202020" text-anchor="middle" letter-spacing="0.6">25</text>
<text x="559.8" y="467" font-size="9" fill="#202020" text-anchor="middle" letter-spacing="0.6">1</text>
<text x="690.8" y="467" font-size="9" fill="#202020" text-anchor="middle" letter-spacing="0.6">8</text>
<rect x="12" y="439" width="62" height="16" fill="#819bb9"/>
<text x="18.5" y="451" font-size="9.1" fill="#f4f6fa" textLength="50.5" lengthAdjust="spacingAndGlyphs">Апр 2009</text>
<rect x="180" y="439" width="62" height="16" fill="#819bb9"/>
<text x="185" y="451" font-size="9.1" fill="#f4f6fa" textLength="52.5" lengthAdjust="spacingAndGlyphs">Май 2009</text>
<rect x="552" y="439" width="69" height="16" fill="#819bb9"/>
<text x="556.6" y="451" font-size="9.1" fill="#f4f6fa" textLength="60" lengthAdjust="spacingAndGlyphs">Июнь 2009</text>
<path d="M180.5,455V470M552.5,455V469" stroke="#a0a0a0"/>
</svg>
</body></html>
